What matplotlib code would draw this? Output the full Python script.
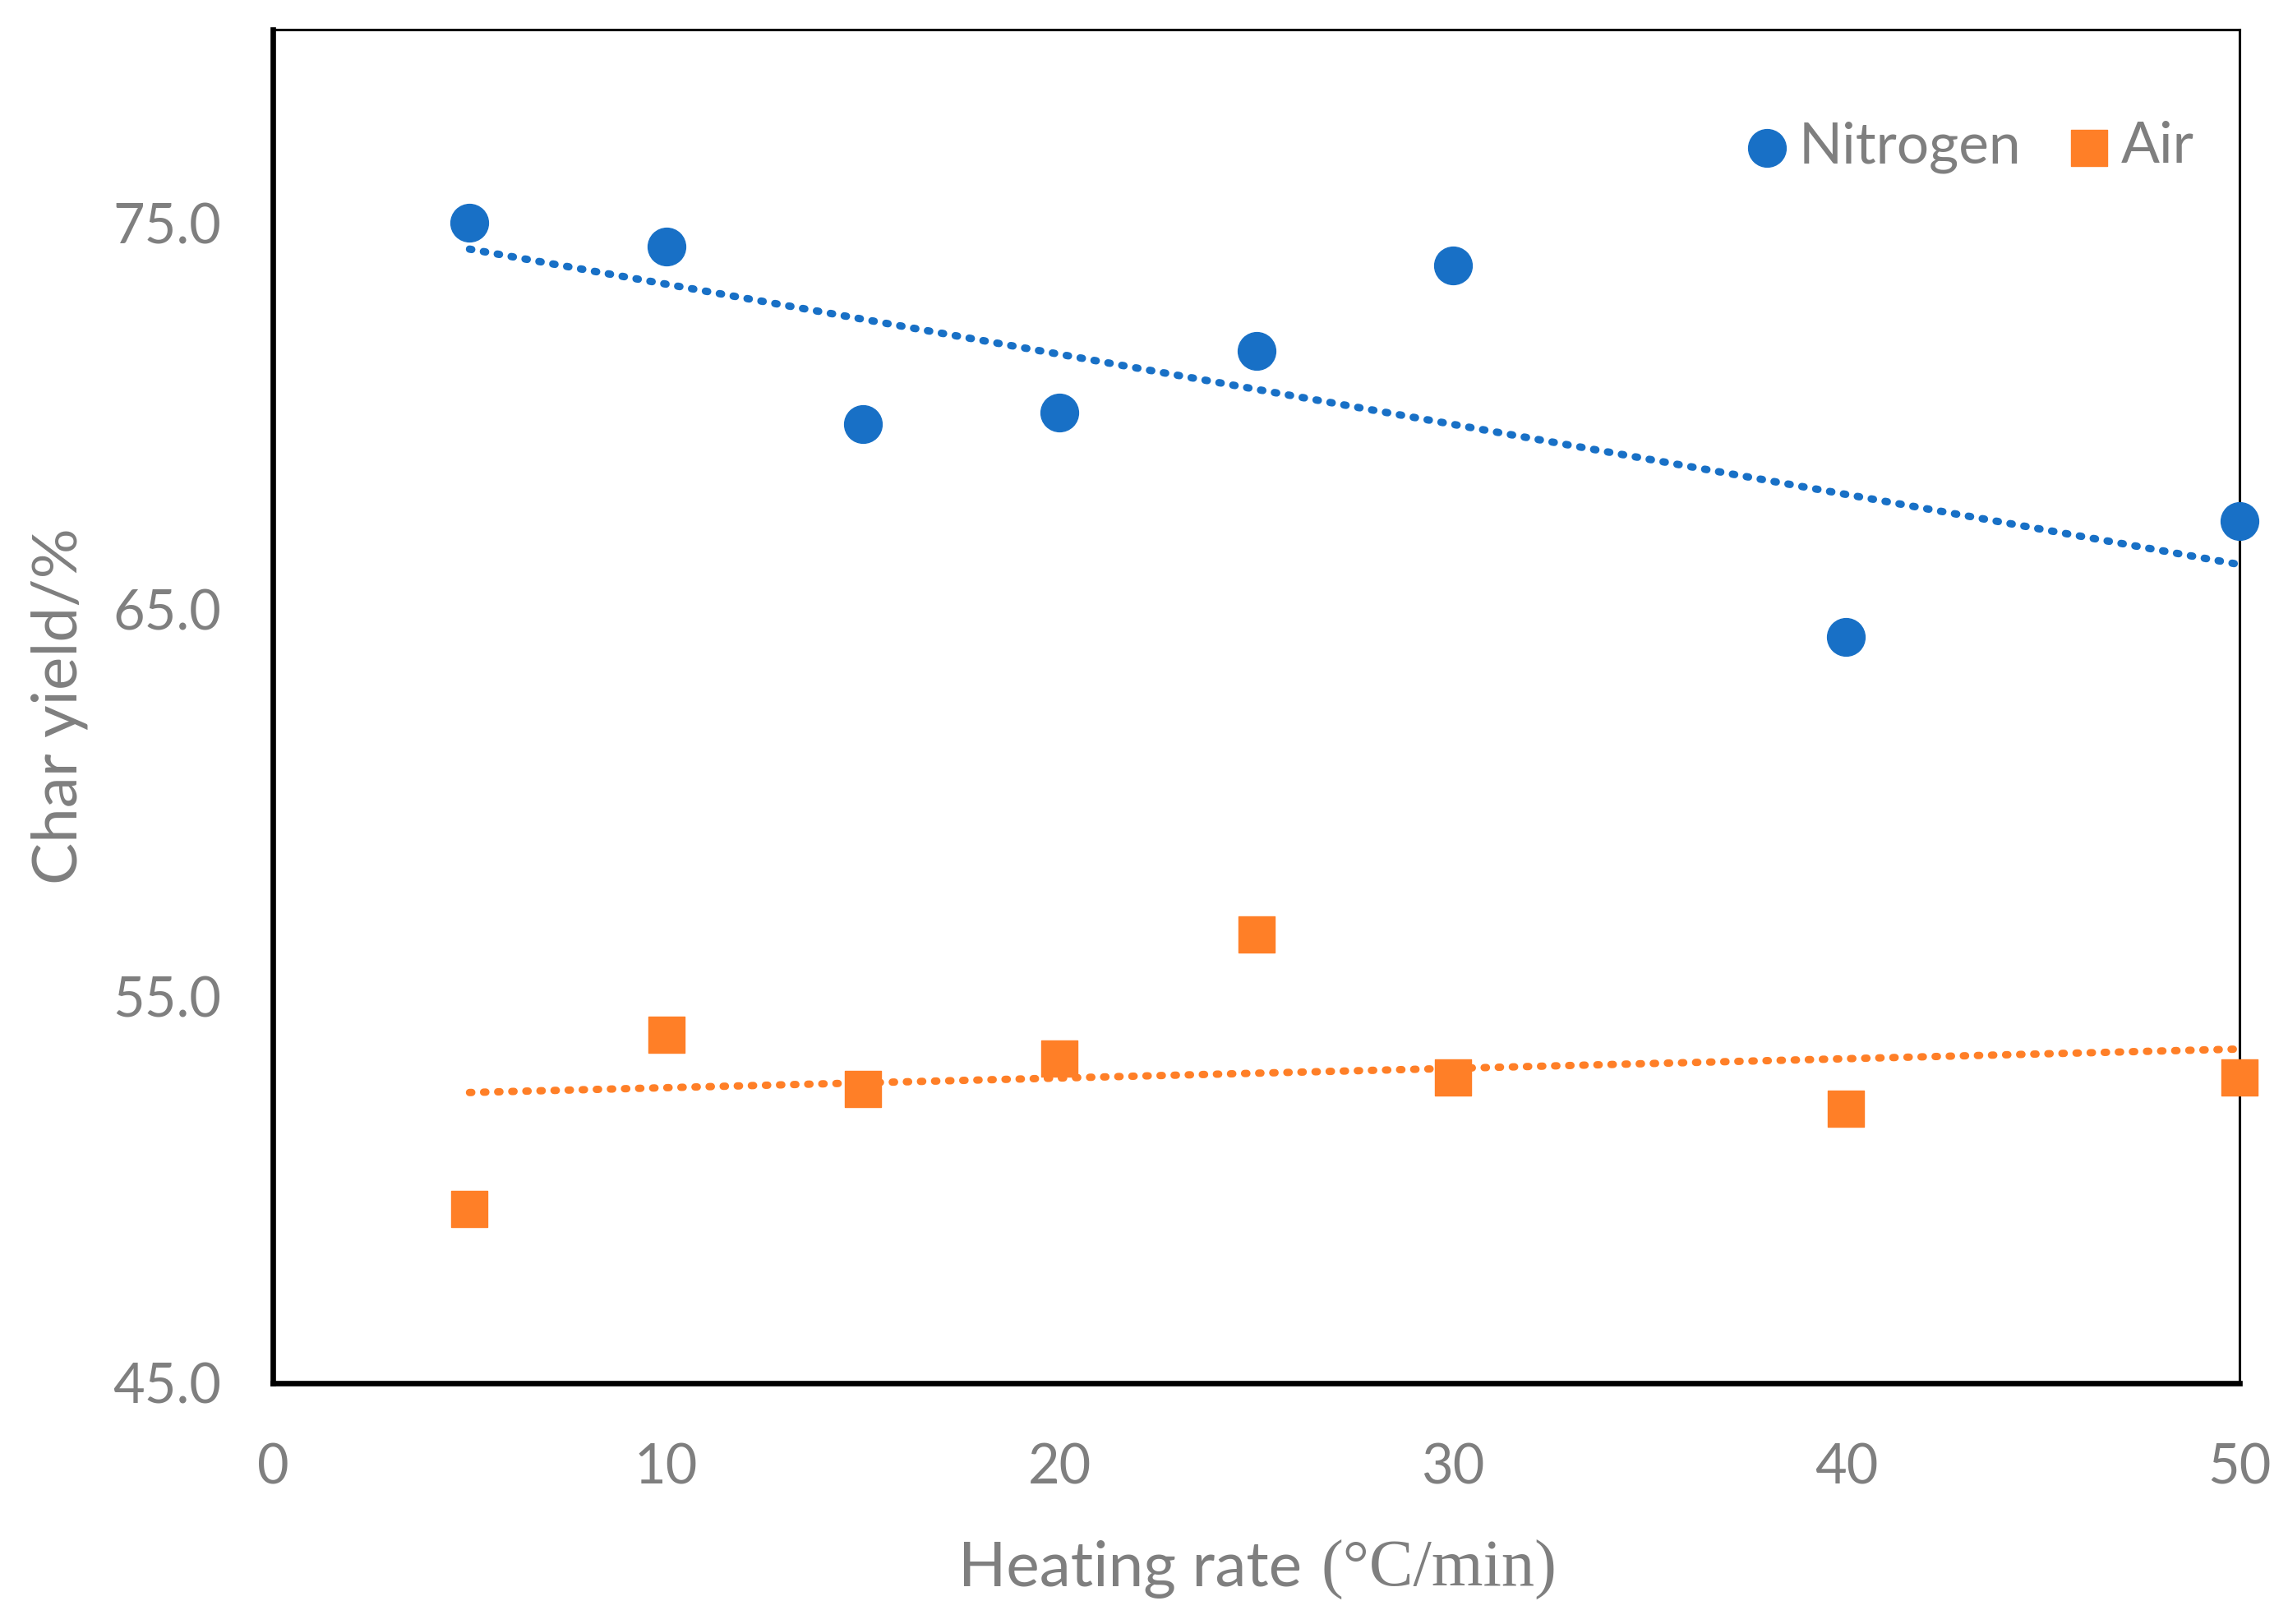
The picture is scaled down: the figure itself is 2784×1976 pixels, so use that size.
import numpy as np
import matplotlib.pyplot as plt

# datos
heating_rate = [5, 10, 15, 20, 25, 30, 40, 50]
nitrogen = [75.0, 74.4, 69.8, 70.1, 71.7, 73.9, 64.3, 67.3]
air = [49.5, 54.0, 52.6, 53.4, 56.6, 52.9, 52.1, 52.9]
y_ticks = [45, 55, 65, 75]
x_ticks = [0, 10, 20, 30, 40, 50]

blue = '#1870C6'
orange = '#FF7F27'
gray = '#7F7F7F'
sans = ['Lato', 'DejaVu Sans']
serif = ['Liberation Serif', 'DejaVu Serif']

fig = plt.figure(figsize=(27.84, 19.76), dpi=100)
ax = fig.add_axes([332 / 2784, 1 - 1683 / 1976, (2725 - 332) / 2784, (1683 - 36) / 1976])

ax.scatter(heating_rate, nitrogen, s=33 ** 2, color=blue, marker='o', label='Nitrogen', zorder=3, clip_on=False)
ax.scatter(heating_rate, air, s=31 ** 2, color=orange, marker='s', label='Air', zorder=3, clip_on=False)

# líneas de tendencia lineales
x = np.array(heating_rate, dtype=float)
xx = np.array([x.min(), x.max()])
for serie, color in [(nitrogen, blue), (air, orange)]:
    m, b = np.polyfit(x, serie, 1)
    ax.plot(xx, m * xx + b, color=color, lw=6.5, linestyle=(0, (0.3, 1.6)),
            dash_capstyle='round', zorder=2)

ax.set_xlim(0, 50)
ax.set_ylim(45, 80)
ax.set_xticks(x_ticks)
ax.set_yticks(y_ticks)
ax.set_yticklabels([f'{v:.1f}' for v in y_ticks])
ax.tick_params(length=0, labelsize=48, labelcolor=gray)
ax.tick_params(axis='y', pad=45)
ax.tick_params(axis='x', pad=52)
for lab in ax.get_xticklabels() + ax.get_yticklabels():
    lab.set_family(sans)

for side in ['left', 'bottom']:
    ax.spines[side].set_linewidth(4.8)
for side in ['top', 'right']:
    ax.spines[side].set_linewidth(2.2)

ax.set_ylabel('Char yield/%', fontsize=55, color=gray, family=sans, labelpad=22)

# título del eje x: parte sans + unidades en serif
fig.text(1166 / 2784, 1 - 1930 / 1976, 'Heating rate', fontsize=55, color=gray,
         family=sans, ha='left', va='baseline')
fig.text(1607 / 2784, 1 - 1930 / 1976, '(°C/min)', fontsize=58, color=gray,
         family=serif, ha='left', va='baseline')

leg = ax.legend(loc='upper right', ncol=2, frameon=False,
                bbox_to_anchor=(0.997, 0.962), handlelength=0.9, handletextpad=0.1,
                columnspacing=0.75, borderpad=0.2, markerscale=1.0,
                prop={'family': sans, 'size': 50})
for t in leg.get_texts():
    t.set_color(gray)

fig.savefig('out.png', dpi=100)
